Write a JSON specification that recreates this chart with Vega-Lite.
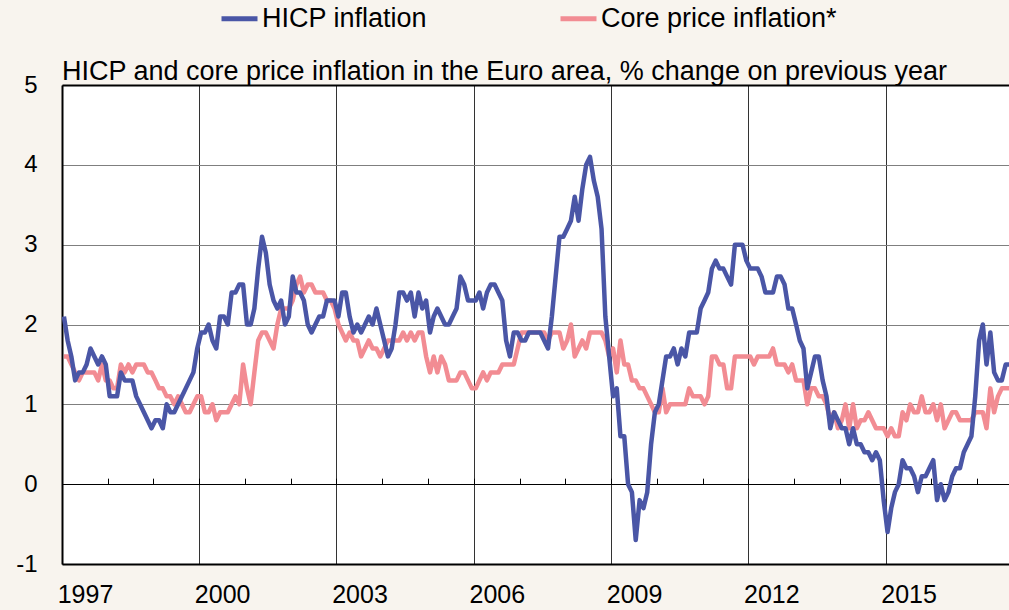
{
  "$schema": "https://vega.github.io/schema/vega-lite/v6.json",
  "width": 947,
  "height": 479,
  "autosize": {"type": "none"},
  "padding": {"left": 62, "top": 85, "right": 0, "bottom": 46},
  "background": "#f8f4ee",
  "config": {
    "view": {"fill": "white", "stroke": null},
    "font": "Liberation Sans",
    "axis": {"labelFont": "Liberation Sans", "labelColor": "black", "title": null}
  },
  "title": {
    "text": "HICP and core price inflation in the Euro area, % change on previous year",
    "anchor": "start",
    "frame": "group",
    "fontSize": 27,
    "fontWeight": "normal",
    "font": "Liberation Sans",
    "color": "black",
    "offset": -88
  },
  "data": {
    "values": [
      {"m":"1997-01","hicp":2.1,"core":1.6},{"m":"1997-02","hicp":1.8,"core":1.6},{"m":"1997-03","hicp":1.6,"core":1.5},{"m":"1997-04","hicp":1.3,"core":1.4},{"m":"1997-05","hicp":1.4,"core":1.3},{"m":"1997-06","hicp":1.4,"core":1.4},{"m":"1997-07","hicp":1.5,"core":1.4},{"m":"1997-08","hicp":1.7,"core":1.4},{"m":"1997-09","hicp":1.6,"core":1.4},{"m":"1997-10","hicp":1.5,"core":1.3},{"m":"1997-11","hicp":1.6,"core":1.5},{"m":"1997-12","hicp":1.5,"core":1.3},
      {"m":"1998-01","hicp":1.1,"core":1.3},{"m":"1998-02","hicp":1.1,"core":1.2},{"m":"1998-03","hicp":1.1,"core":1.2},{"m":"1998-04","hicp":1.4,"core":1.5},{"m":"1998-05","hicp":1.3,"core":1.4},{"m":"1998-06","hicp":1.3,"core":1.5},{"m":"1998-07","hicp":1.3,"core":1.4},{"m":"1998-08","hicp":1.1,"core":1.5},{"m":"1998-09","hicp":1.0,"core":1.5},{"m":"1998-10","hicp":0.9,"core":1.5},{"m":"1998-11","hicp":0.8,"core":1.4},{"m":"1998-12","hicp":0.7,"core":1.4},
      {"m":"1999-01","hicp":0.8,"core":1.3},{"m":"1999-02","hicp":0.8,"core":1.2},{"m":"1999-03","hicp":0.7,"core":1.2},{"m":"1999-04","hicp":1.0,"core":1.1},{"m":"1999-05","hicp":0.9,"core":1.1},{"m":"1999-06","hicp":0.9,"core":1.0},{"m":"1999-07","hicp":1.0,"core":1.1},{"m":"1999-08","hicp":1.1,"core":1.0},{"m":"1999-09","hicp":1.2,"core":0.9},{"m":"1999-10","hicp":1.3,"core":0.9},{"m":"1999-11","hicp":1.4,"core":1.0},{"m":"1999-12","hicp":1.7,"core":1.1},
      {"m":"2000-01","hicp":1.9,"core":1.1},{"m":"2000-02","hicp":1.9,"core":0.9},{"m":"2000-03","hicp":2.0,"core":0.9},{"m":"2000-04","hicp":1.8,"core":1.0},{"m":"2000-05","hicp":1.7,"core":0.8},{"m":"2000-06","hicp":2.1,"core":0.9},{"m":"2000-07","hicp":2.1,"core":0.9},{"m":"2000-08","hicp":2.0,"core":0.9},{"m":"2000-09","hicp":2.4,"core":1.0},{"m":"2000-10","hicp":2.4,"core":1.1},{"m":"2000-11","hicp":2.5,"core":1.0},{"m":"2000-12","hicp":2.5,"core":1.5},
      {"m":"2001-01","hicp":2.0,"core":1.2},{"m":"2001-02","hicp":2.0,"core":1.0},{"m":"2001-03","hicp":2.2,"core":1.4},{"m":"2001-04","hicp":2.7,"core":1.8},{"m":"2001-05","hicp":3.1,"core":1.9},{"m":"2001-06","hicp":2.9,"core":1.9},{"m":"2001-07","hicp":2.5,"core":1.8},{"m":"2001-08","hicp":2.3,"core":1.7},{"m":"2001-09","hicp":2.2,"core":2.0},{"m":"2001-10","hicp":2.3,"core":2.2},{"m":"2001-11","hicp":2.0,"core":2.2},{"m":"2001-12","hicp":2.1,"core":2.2},
      {"m":"2002-01","hicp":2.6,"core":2.3},{"m":"2002-02","hicp":2.4,"core":2.5},{"m":"2002-03","hicp":2.4,"core":2.6},{"m":"2002-04","hicp":2.3,"core":2.4},{"m":"2002-05","hicp":2.0,"core":2.5},{"m":"2002-06","hicp":1.9,"core":2.5},{"m":"2002-07","hicp":2.0,"core":2.4},{"m":"2002-08","hicp":2.1,"core":2.4},{"m":"2002-09","hicp":2.1,"core":2.4},{"m":"2002-10","hicp":2.3,"core":2.3},{"m":"2002-11","hicp":2.3,"core":2.3},{"m":"2002-12","hicp":2.3,"core":2.2},
      {"m":"2003-01","hicp":2.1,"core":2.0},{"m":"2003-02","hicp":2.4,"core":1.9},{"m":"2003-03","hicp":2.4,"core":1.8},{"m":"2003-04","hicp":2.1,"core":1.9},{"m":"2003-05","hicp":1.9,"core":1.8},{"m":"2003-06","hicp":2.0,"core":1.8},{"m":"2003-07","hicp":1.9,"core":1.6},{"m":"2003-08","hicp":2.0,"core":1.7},{"m":"2003-09","hicp":2.1,"core":1.8},{"m":"2003-10","hicp":2.0,"core":1.7},{"m":"2003-11","hicp":2.2,"core":1.7},{"m":"2003-12","hicp":2.0,"core":1.6},
      {"m":"2004-01","hicp":1.8,"core":1.7},{"m":"2004-02","hicp":1.6,"core":1.8},{"m":"2004-03","hicp":1.7,"core":1.8},{"m":"2004-04","hicp":2.0,"core":1.8},{"m":"2004-05","hicp":2.4,"core":1.8},{"m":"2004-06","hicp":2.4,"core":1.9},{"m":"2004-07","hicp":2.3,"core":1.8},{"m":"2004-08","hicp":2.4,"core":1.9},{"m":"2004-09","hicp":2.1,"core":1.8},{"m":"2004-10","hicp":2.4,"core":1.9},{"m":"2004-11","hicp":2.2,"core":1.9},{"m":"2004-12","hicp":2.3,"core":1.6},
      {"m":"2005-01","hicp":1.9,"core":1.4},{"m":"2005-02","hicp":2.1,"core":1.6},{"m":"2005-03","hicp":2.2,"core":1.4},{"m":"2005-04","hicp":2.1,"core":1.6},{"m":"2005-05","hicp":2.0,"core":1.5},{"m":"2005-06","hicp":2.0,"core":1.3},{"m":"2005-07","hicp":2.1,"core":1.3},{"m":"2005-08","hicp":2.2,"core":1.3},{"m":"2005-09","hicp":2.6,"core":1.4},{"m":"2005-10","hicp":2.5,"core":1.4},{"m":"2005-11","hicp":2.3,"core":1.3},{"m":"2005-12","hicp":2.3,"core":1.2},
      {"m":"2006-01","hicp":2.3,"core":1.2},{"m":"2006-02","hicp":2.4,"core":1.3},{"m":"2006-03","hicp":2.2,"core":1.4},{"m":"2006-04","hicp":2.4,"core":1.3},{"m":"2006-05","hicp":2.5,"core":1.4},{"m":"2006-06","hicp":2.5,"core":1.4},{"m":"2006-07","hicp":2.4,"core":1.4},{"m":"2006-08","hicp":2.3,"core":1.5},{"m":"2006-09","hicp":1.8,"core":1.5},{"m":"2006-10","hicp":1.6,"core":1.5},{"m":"2006-11","hicp":1.9,"core":1.5},{"m":"2006-12","hicp":1.9,"core":1.7},
      {"m":"2007-01","hicp":1.8,"core":1.9},{"m":"2007-02","hicp":1.8,"core":1.9},{"m":"2007-03","hicp":1.9,"core":1.9},{"m":"2007-04","hicp":1.9,"core":1.9},{"m":"2007-05","hicp":1.9,"core":1.9},{"m":"2007-06","hicp":1.9,"core":1.9},{"m":"2007-07","hicp":1.8,"core":1.9},{"m":"2007-08","hicp":1.7,"core":1.8},{"m":"2007-09","hicp":2.1,"core":1.9},{"m":"2007-10","hicp":2.6,"core":1.9},{"m":"2007-11","hicp":3.1,"core":1.9},{"m":"2007-12","hicp":3.1,"core":1.7},
      {"m":"2008-01","hicp":3.2,"core":1.8},{"m":"2008-02","hicp":3.3,"core":2.0},{"m":"2008-03","hicp":3.6,"core":1.6},{"m":"2008-04","hicp":3.3,"core":1.7},{"m":"2008-05","hicp":3.7,"core":1.8},{"m":"2008-06","hicp":4.0,"core":1.7},{"m":"2008-07","hicp":4.1,"core":1.9},{"m":"2008-08","hicp":3.8,"core":1.9},{"m":"2008-09","hicp":3.6,"core":1.9},{"m":"2008-10","hicp":3.2,"core":1.9},{"m":"2008-11","hicp":2.1,"core":1.8},{"m":"2008-12","hicp":1.6,"core":1.6},
      {"m":"2009-01","hicp":1.1,"core":1.7},{"m":"2009-02","hicp":1.2,"core":1.4},{"m":"2009-03","hicp":0.6,"core":1.8},{"m":"2009-04","hicp":0.6,"core":1.5},{"m":"2009-05","hicp":0.0,"core":1.5},{"m":"2009-06","hicp":-0.1,"core":1.3},{"m":"2009-07","hicp":-0.7,"core":1.3},{"m":"2009-08","hicp":-0.2,"core":1.2},{"m":"2009-09","hicp":-0.3,"core":1.2},{"m":"2009-10","hicp":-0.1,"core":1.1},{"m":"2009-11","hicp":0.5,"core":1.0},{"m":"2009-12","hicp":0.9,"core":0.9},
      {"m":"2010-01","hicp":1.0,"core":0.9},{"m":"2010-02","hicp":1.3,"core":1.2},{"m":"2010-03","hicp":1.6,"core":0.9},{"m":"2010-04","hicp":1.6,"core":1.0},{"m":"2010-05","hicp":1.7,"core":1.0},{"m":"2010-06","hicp":1.5,"core":1.0},{"m":"2010-07","hicp":1.7,"core":1.0},{"m":"2010-08","hicp":1.6,"core":1.0},{"m":"2010-09","hicp":1.9,"core":1.2},{"m":"2010-10","hicp":1.9,"core":1.1},{"m":"2010-11","hicp":1.9,"core":1.1},{"m":"2010-12","hicp":2.2,"core":1.1},
      {"m":"2011-01","hicp":2.3,"core":1.0},{"m":"2011-02","hicp":2.4,"core":1.1},{"m":"2011-03","hicp":2.7,"core":1.6},{"m":"2011-04","hicp":2.8,"core":1.6},{"m":"2011-05","hicp":2.7,"core":1.5},{"m":"2011-06","hicp":2.7,"core":1.5},{"m":"2011-07","hicp":2.6,"core":1.2},{"m":"2011-08","hicp":2.5,"core":1.2},{"m":"2011-09","hicp":3.0,"core":1.6},{"m":"2011-10","hicp":3.0,"core":1.6},{"m":"2011-11","hicp":3.0,"core":1.6},{"m":"2011-12","hicp":2.8,"core":1.6},
      {"m":"2012-01","hicp":2.7,"core":1.6},{"m":"2012-02","hicp":2.7,"core":1.5},{"m":"2012-03","hicp":2.7,"core":1.6},{"m":"2012-04","hicp":2.6,"core":1.6},{"m":"2012-05","hicp":2.4,"core":1.6},{"m":"2012-06","hicp":2.4,"core":1.6},{"m":"2012-07","hicp":2.4,"core":1.7},{"m":"2012-08","hicp":2.6,"core":1.5},{"m":"2012-09","hicp":2.6,"core":1.5},{"m":"2012-10","hicp":2.5,"core":1.5},{"m":"2012-11","hicp":2.2,"core":1.4},{"m":"2012-12","hicp":2.2,"core":1.5},
      {"m":"2013-01","hicp":2.0,"core":1.3},{"m":"2013-02","hicp":1.8,"core":1.3},{"m":"2013-03","hicp":1.7,"core":1.3},{"m":"2013-04","hicp":1.2,"core":1.0},{"m":"2013-05","hicp":1.4,"core":1.2},{"m":"2013-06","hicp":1.6,"core":1.2},{"m":"2013-07","hicp":1.6,"core":1.1},{"m":"2013-08","hicp":1.3,"core":1.1},{"m":"2013-09","hicp":1.1,"core":1.0},{"m":"2013-10","hicp":0.7,"core":0.8},{"m":"2013-11","hicp":0.9,"core":0.9},{"m":"2013-12","hicp":0.8,"core":0.7},
      {"m":"2014-01","hicp":0.7,"core":0.8},{"m":"2014-02","hicp":0.7,"core":1.0},{"m":"2014-03","hicp":0.5,"core":0.7},{"m":"2014-04","hicp":0.7,"core":1.0},{"m":"2014-05","hicp":0.5,"core":0.7},{"m":"2014-06","hicp":0.5,"core":0.8},{"m":"2014-07","hicp":0.4,"core":0.8},{"m":"2014-08","hicp":0.4,"core":0.9},{"m":"2014-09","hicp":0.3,"core":0.8},{"m":"2014-10","hicp":0.4,"core":0.7},{"m":"2014-11","hicp":0.3,"core":0.7},{"m":"2014-12","hicp":-0.2,"core":0.7},
      {"m":"2015-01","hicp":-0.6,"core":0.6},{"m":"2015-02","hicp":-0.3,"core":0.7},{"m":"2015-03","hicp":-0.1,"core":0.6},{"m":"2015-04","hicp":0.0,"core":0.6},{"m":"2015-05","hicp":0.3,"core":0.9},{"m":"2015-06","hicp":0.2,"core":0.8},{"m":"2015-07","hicp":0.2,"core":1.0},{"m":"2015-08","hicp":0.1,"core":0.9},{"m":"2015-09","hicp":-0.1,"core":0.9},{"m":"2015-10","hicp":0.1,"core":1.1},{"m":"2015-11","hicp":0.1,"core":0.9},{"m":"2015-12","hicp":0.2,"core":0.9},
      {"m":"2016-01","hicp":0.3,"core":1.0},{"m":"2016-02","hicp":-0.2,"core":0.8},{"m":"2016-03","hicp":0.0,"core":1.0},{"m":"2016-04","hicp":-0.2,"core":0.7},{"m":"2016-05","hicp":-0.1,"core":0.8},{"m":"2016-06","hicp":0.1,"core":0.9},{"m":"2016-07","hicp":0.2,"core":0.9},{"m":"2016-08","hicp":0.2,"core":0.8},{"m":"2016-09","hicp":0.4,"core":0.8},{"m":"2016-10","hicp":0.5,"core":0.8},{"m":"2016-11","hicp":0.6,"core":0.8},{"m":"2016-12","hicp":1.1,"core":0.9},
      {"m":"2017-01","hicp":1.8,"core":0.9},{"m":"2017-02","hicp":2.0,"core":0.9},{"m":"2017-03","hicp":1.5,"core":0.7},{"m":"2017-04","hicp":1.9,"core":1.2},{"m":"2017-05","hicp":1.4,"core":0.9},{"m":"2017-06","hicp":1.3,"core":1.1},{"m":"2017-07","hicp":1.3,"core":1.2},{"m":"2017-08","hicp":1.5,"core":1.2},{"m":"2017-09","hicp":1.5,"core":1.2}
    ]
  },
  "layer": [
    {
      "mark": {"type": "line", "strokeWidth": 4.5, "strokeJoin": "round", "clip": true},
      "encoding": {
        "x": {
          "field": "m", "type": "temporal", "timeUnit": "utcyearmonth", "bandPosition": 0.5,
          "scale": {"type": "utc", "domain": [{"year": 1997, "month": 1, "date": 1, "utc": true}, {"year": 2017, "month": 9, "date": 12, "utc": true}]},
          "axis": {
            "orient": "top", "offset": -399.17, "title": null,
            "values": [{"year":1998,"month":1,"date":1,"utc":true},{"year":1999,"month":1,"date":1,"utc":true},{"year":2000,"month":1,"date":1,"utc":true},{"year":2001,"month":1,"date":1,"utc":true},{"year":2002,"month":1,"date":1,"utc":true},{"year":2003,"month":1,"date":1,"utc":true},{"year":2004,"month":1,"date":1,"utc":true},{"year":2005,"month":1,"date":1,"utc":true},{"year":2006,"month":1,"date":1,"utc":true},{"year":2007,"month":1,"date":1,"utc":true},{"year":2008,"month":1,"date":1,"utc":true},{"year":2009,"month":1,"date":1,"utc":true},{"year":2010,"month":1,"date":1,"utc":true},{"year":2011,"month":1,"date":1,"utc":true},{"year":2012,"month":1,"date":1,"utc":true},{"year":2013,"month":1,"date":1,"utc":true},{"year":2014,"month":1,"date":1,"utc":true},{"year":2015,"month":1,"date":1,"utc":true},{"year":2016,"month":1,"date":1,"utc":true},{"year":2017,"month":1,"date":1,"utc":true}],
            "labels": false, "domain": false, "grid": false, "ticks": true, "tickSize": 6, "tickColor": "black", "tickWidth": 1
          }
        },
        "y": {
          "field": "core", "type": "quantitative",
          "scale": {"domain": [-1, 5], "nice": false, "zero": false},
          "axis": {
            "values": [-1, 0, 1, 2, 3, 4, 5], "title": null, "labelFontSize": 24, "labelPadding": 25, "ticks": false,
            "labelExpr": "'' + datum.value",
            "grid": true,
            "gridColor": {"condition": {"test": "datum.value === 0 || datum.value === 5", "value": "#000000"}, "value": "#7f7f7f"},
            "gridWidth": {"condition": {"test": "datum.value === 5", "value": 2}, "value": 1.2},
            "domain": true, "domainColor": "#000000", "domainWidth": 2, "labelFlush": false
          }
        },
        "color": {
          "datum": "Core price inflation*", "type": "nominal",
          "scale": {"domain": ["HICP inflation", "Core price inflation*"], "range": ["#4a56a6", "#f28c93"]},
          "legend": {
            "orient": "none", "legendX": 157, "legendY": -87, "direction": "horizontal", "title": null,
            "symbolType": "stroke", "symbolSize": 1296, "symbolStrokeWidth": 5,
            "labelFontSize": 27, "labelFont": "Liberation Sans", "labelColor": "black", "labelOffset": 2,
            "columnPadding": 122, "labelLimit": 0, "padding": 0
          }
        }
      }
    },
    {
      "mark": {"type": "line", "strokeWidth": 4.5, "strokeJoin": "round", "clip": true},
      "encoding": {
        "x": {
          "field": "m", "type": "temporal", "timeUnit": "utcyearmonth", "bandPosition": 0.5,
          "scale": {"type": "utc", "domain": [{"year": 1997, "month": 1, "date": 1, "utc": true}, {"year": 2017, "month": 9, "date": 12, "utc": true}]},
          "axis": {
            "orient": "bottom", "title": null,
            "values": [{"year":1997,"month":1,"date":1,"utc":true},{"year":2000,"month":1,"date":1,"utc":true},{"year":2003,"month":1,"date":1,"utc":true},{"year":2006,"month":1,"date":1,"utc":true},{"year":2009,"month":1,"date":1,"utc":true},{"year":2012,"month":1,"date":1,"utc":true},{"year":2015,"month":1,"date":1,"utc":true}],
            "labelExpr": "utcFormat(datum.value, '%Y')",
            "labelFontSize": 25, "labelOffset": 23, "labelPadding": 18,
            "ticks": false, "grid": true, "gridColor": "#333333", "gridWidth": 1,
            "domain": true, "domainColor": "#000000", "domainWidth": 2, "labelFlush": false, "labelOverlap": false
          }
        },
        "y": {
          "field": "hicp", "type": "quantitative",
          "scale": {"domain": [-1, 5], "nice": false, "zero": false},
          "axis": {
            "values": [-1, 0, 1, 2, 3, 4, 5], "title": null, "labelFontSize": 24, "labelPadding": 25, "ticks": false,
            "labelExpr": "'' + datum.value",
            "grid": true,
            "gridColor": {"condition": {"test": "datum.value === 0 || datum.value === 5", "value": "#000000"}, "value": "#7f7f7f"},
            "gridWidth": {"condition": {"test": "datum.value === 5", "value": 2}, "value": 1.2},
            "domain": true, "domainColor": "#000000", "domainWidth": 2, "labelFlush": false
          }
        },
        "color": {
          "datum": "HICP inflation", "type": "nominal",
          "scale": {"domain": ["HICP inflation", "Core price inflation*"], "range": ["#4a56a6", "#f28c93"]},
          "legend": {
            "orient": "none", "legendX": 157, "legendY": -87, "direction": "horizontal", "title": null,
            "symbolType": "stroke", "symbolSize": 1296, "symbolStrokeWidth": 5,
            "labelFontSize": 27, "labelFont": "Liberation Sans", "labelColor": "black", "labelOffset": 2,
            "columnPadding": 122, "labelLimit": 0, "padding": 0
          }
        }
      }
    }
  ],
  "resolve": {"axis": {"x": "independent"}}
}
